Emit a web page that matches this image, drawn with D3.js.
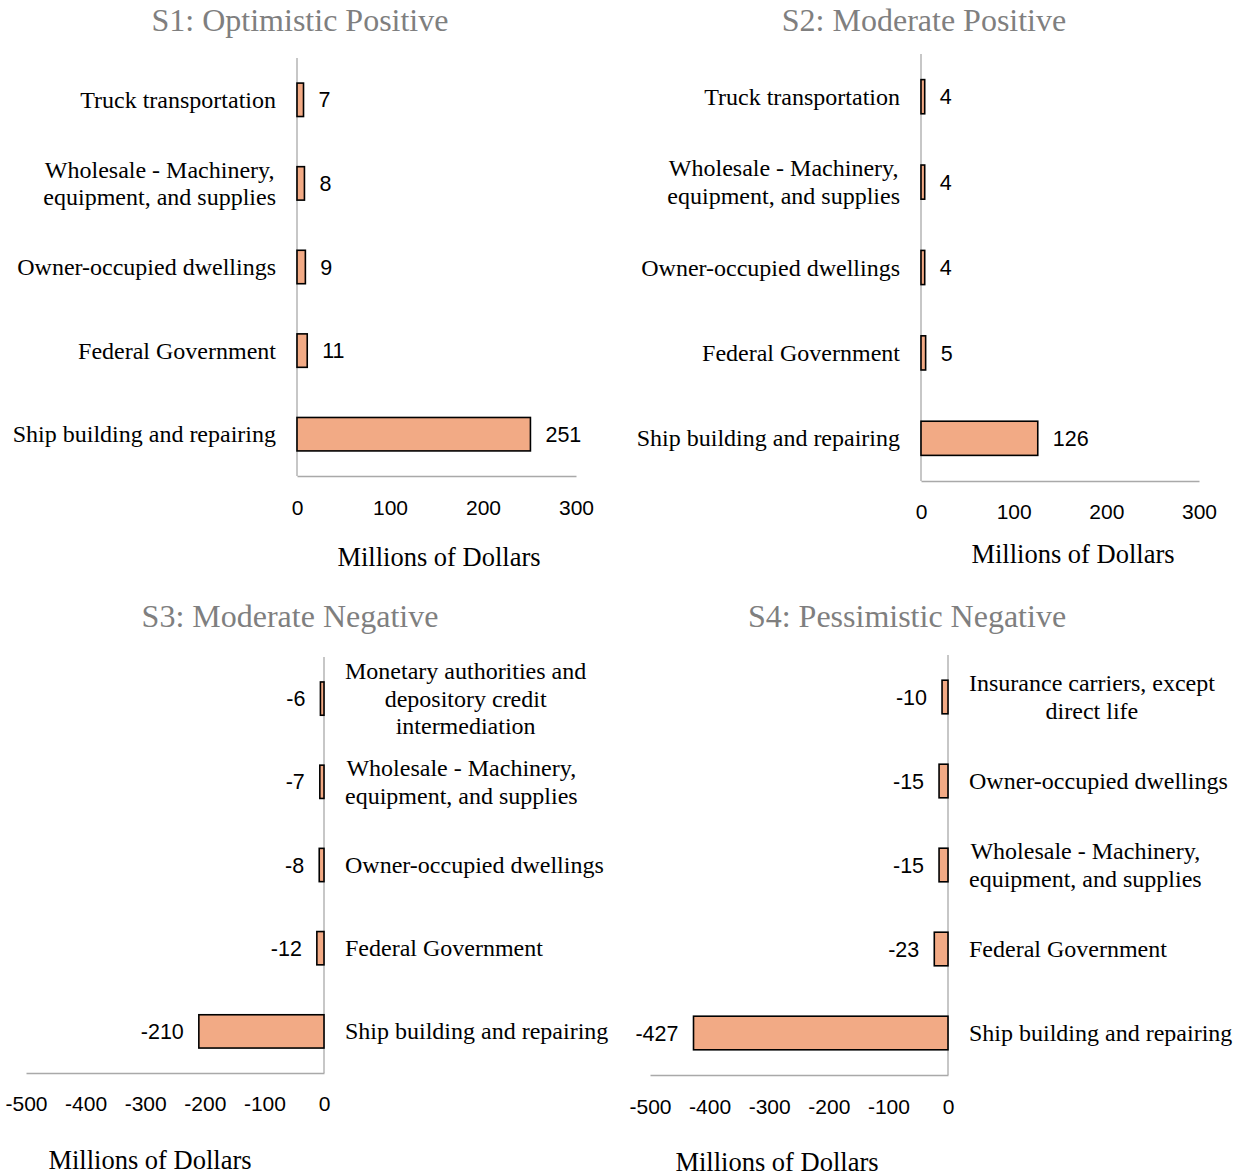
<!DOCTYPE html>
<html>
<head>
<meta charset="utf-8">
<script src="https://cdn.jsdelivr.net/npm/d3@7"></script>
<style>
  html, body { margin: 0; padding: 0; background: #fff; }
  svg { display: block; }
</style>
</head>
<body>
<svg id="chart" width="1237" height="1176"></svg>
<script>
// Regional economic impact by scenario, top five sectors (millions of dollars)
const s1Title = "S1: Optimistic Positive";
const s1Categories = ["Truck transportation", "Wholesale - Machinery,\nequipment, and supplies", "Owner-occupied dwellings", "Federal Government", "Ship building and repairing"];
const s1Values = [7, 8, 9, 11, 251];

const s2Title = "S2: Moderate Positive";
const s2Categories = ["Truck transportation", "Wholesale - Machinery,\nequipment, and supplies", "Owner-occupied dwellings", "Federal Government", "Ship building and repairing"];
const s2Values = [4, 4, 4, 5, 126];

const s3Title = "S3: Moderate Negative";
const s3Categories = ["Monetary authorities and\ndepository credit\nintermediation", "Wholesale - Machinery,\nequipment, and supplies", "Owner-occupied dwellings", "Federal Government", "Ship building and repairing"];
const s3Values = [-6, -7, -8, -12, -210];

const s4Title = "S4: Pessimistic Negative";
const s4Categories = ["Insurance carriers, except\ndirect life", "Owner-occupied dwellings", "Wholesale - Machinery,\nequipment, and supplies", "Federal Government", "Ship building and repairing"];
const s4Values = [-10, -15, -15, -23, -427];

const positiveTicks = [0, 100, 200, 300];
const negativeTicks = [-500, -400, -300, -200, -100, 0];
const axisTitle = "Millions of Dollars";

const panels = [
  { title: s1Title, cats: s1Categories, vals: s1Values, domain: [0, 300], ticks: positiveTicks,
    xr: [297, 576], yr: [58, 476], titlePos: [300, 24], axisTitlePos: [439, 560], tickY: 509 },
  { title: s2Title, cats: s2Categories, vals: s2Values, domain: [0, 300], ticks: positiveTicks,
    xr: [921, 1199], yr: [54, 481], titlePos: [924, 24], axisTitlePos: [1073, 557], tickY: 513 },
  { title: s3Title, cats: s3Categories, vals: s3Values, domain: [-500, 0], ticks: negativeTicks,
    xr: [26, 324], yr: [657, 1073], titlePos: [290, 620], axisTitlePos: [150, 1163], tickY: 1105 },
  { title: s4Title, cats: s4Categories, vals: s4Values, domain: [-500, 0], ticks: negativeTicks,
    xr: [650, 948], yr: [655, 1075], titlePos: [907, 620], axisTitlePos: [777, 1165], tickY: 1108 }
];

const SERIF = "'Liberation Serif', 'Times New Roman', serif";
const SANS = "'Liberation Sans', Arial, sans-serif";
const BAR_FILL = "#f2aa85";
const AXIS_GRAY = "#a9a9a9";
const fmt = d => String(d); // plain hyphen-minus for negatives

const svg = d3.select("#chart");

panels.forEach(p => {
  const g = svg.append("g");
  const x = d3.scaleLinear().domain(p.domain).range(p.xr);
  const y = d3.scaleBand().domain(p.cats).range(p.yr).paddingInner(0.6).paddingOuter(0.3);
  const x0 = x(0);
  const isNeg = p.domain[1] === 0;

  // Title
  g.append("text")
    .attr("x", p.titlePos[0]).attr("y", p.titlePos[1])
    .attr("text-anchor", "middle").attr("dominant-baseline", "middle")
    .attr("font-family", SERIF).attr("font-size", 32).attr("fill", "#7f7f7f")
    .text(p.title);

  // Horizontal value axis (line only) with tick labels below
  const axis = d3.axisBottom(x).tickValues(p.ticks).tickSize(0).tickPadding(0).tickFormat(fmt);
  const ax = g.append("g").attr("transform", `translate(0,${p.yr[1]})`).call(axis);
  ax.select(".domain").attr("stroke", AXIS_GRAY).attr("stroke-width", 1.3);
  ax.selectAll(".tick text")
    .attr("y", p.tickY - p.yr[1]).attr("dy", null)
    .attr("dominant-baseline", "middle")
    .attr("font-family", SANS).attr("font-size", 21).attr("fill", "#000");

  // Vertical category axis line at zero
  g.append("line")
    .attr("x1", x0).attr("x2", x0).attr("y1", p.yr[0]).attr("y2", p.yr[1])
    .attr("stroke", AXIS_GRAY).attr("stroke-width", 1.3);

  // Bars
  g.selectAll("rect.bar").data(p.vals).enter().append("rect")
    .attr("class", "bar")
    .attr("x", d => Math.min(x(d), x0))
    .attr("width", d => Math.abs(x(d) - x0))
    .attr("y", (d, i) => y(p.cats[i]))
    .attr("height", y.bandwidth())
    .attr("fill", BAR_FILL).attr("stroke", "#000").attr("stroke-width", 1.6);

  // Value labels
  g.selectAll("text.val").data(p.vals).enter().append("text")
    .attr("class", "val")
    .attr("x", d => isNeg ? x(d) - 15 : x(d) + 15)
    .attr("y", (d, i) => y(p.cats[i]) + y.bandwidth() / 2 + 2)
    .attr("text-anchor", isNeg ? "end" : "start")
    .attr("dominant-baseline", "middle")
    .attr("font-family", SANS).attr("font-size", 21.5).attr("fill", "#000")
    .text(fmt);

  // Category labels: centered lines inside a block anchored beside the axis
  p.cats.forEach(c => {
    const lines = c.split("\n");
    const cy = y(c) + y.bandwidth() / 2 + 2;
    const lh = 27.5;
    const t = g.append("text")
      .attr("font-family", SERIF).attr("font-size", 24).attr("fill", "#000")
      .attr("text-anchor", "middle").attr("dominant-baseline", "middle");
    const spans = lines.map((ln, k) => t.append("tspan")
      .attr("y", cy + (k - (lines.length - 1) / 2) * lh)
      .text(ln));
    const w = d3.max(spans, s => s.node().getComputedTextLength());
    const cx = isNeg ? x0 + 21 + w / 2 : x0 - 21 - w / 2;
    spans.forEach(s => s.attr("x", cx));
  });

  // Axis title
  g.append("text")
    .attr("x", p.axisTitlePos[0]).attr("y", p.axisTitlePos[1])
    .attr("text-anchor", "middle").attr("dominant-baseline", "middle")
    .attr("font-family", SERIF).attr("font-size", 26.5).attr("fill", "#000")
    .text(axisTitle);
});
</script>
</body>
</html>
